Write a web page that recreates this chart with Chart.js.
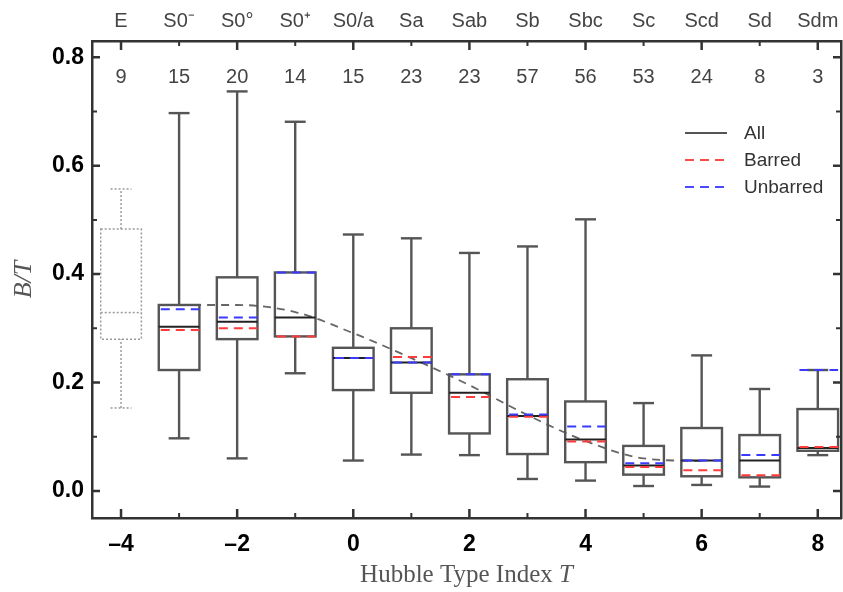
<!DOCTYPE html>
<html>
<head>
<meta charset="utf-8">
<script src="https://cdn.jsdelivr.net/npm/chart.js@4.4.1/dist/chart.umd.min.js"></script>
<style>
  body { margin: 0; background: #fff; }
  #wrap { width: 843px; height: 592px; }
</style>
</head>
<body>
<div id="wrap"><canvas id="chart" width="843" height="592"></canvas></div>
<script>
// Hubble type index and its name / sample size
const types = [-4, -3, -2, -1, 0, 1, 2, 3, 4, 5, 6, 7, 8]
const typeNames = ['E', 'S0\u207B', 'S0\u00B0', 'S0\u207A', 'S0/a', 'Sa', 'Sab', 'Sb', 'Sbc', 'Sc', 'Scd', 'Sd', 'Sdm']
const galaxyCounts = [9, 15, 20, 14, 15, 23, 23, 57, 56, 53, 24, 8, 3]

// box plot stats of B/T
const whiskerLow  = [0.153, 0.097, 0.060, 0.217, 0.056, 0.067, 0.066, 0.022, 0.019, 0.009, 0.011, 0.008, 0.066]
const q1          = [0.280, 0.223, 0.280, 0.285, 0.186, 0.181, 0.106, 0.068, 0.053, 0.030, 0.027, 0.025, 0.074]
const medianAll   = [0.329, 0.303, 0.312, 0.320, 0.245, 0.237, 0.181, 0.138, 0.095, 0.047, 0.056, 0.056, 0.079]
const q3          = [0.483, 0.343, 0.394, 0.403, 0.264, 0.300, 0.215, 0.206, 0.165, 0.083, 0.116, 0.103, 0.151]
const whiskerHigh = [0.557, 0.697, 0.737, 0.681, 0.473, 0.466, 0.439, 0.451, 0.501, 0.162, 0.250, 0.188, 0.223]
const medianBarred   = [null, 0.297, 0.300, 0.285, 0.245, 0.247, 0.173, 0.137, 0.091, 0.044, 0.038, 0.029, 0.081]
const medianUnbarred = [null, 0.335, 0.320, 0.403, 0.245, 0.237, 0.215, 0.141, 0.119, 0.051, 0.056, 0.066, 0.223]

// dashed trend
const trendT  = [-3, -2, -1, 0, 1, 2, 3, 4, 5, 6]
const trendBT = [0.343, 0.343, 0.330, 0.291, 0.245, 0.195, 0.140, 0.092, 0.060, 0.055]

const yTickValues = [0, 0.1, 0.2, 0.3, 0.4, 0.5, 0.6, 0.7, 0.8]

const axisColor = '#333'

const boxPlugin = {
    id: 'boxes',
    afterDatasetsDraw(chart){
        const {ctx} = chart
        const x = chart.scales.x
        const y = chart.scales.y
        const half = 0.35
        const cap = 0.18
        const seg = (x1, y1, x2, y2) => {
            ctx.beginPath()
            ctx.moveTo(x1, y1)
            ctx.lineTo(x2, y2)
            ctx.stroke()
        }
        ctx.save()
        types.forEach((t, i) => {
            const xc = x.getPixelForValue(t)
            const xl = x.getPixelForValue(t - half)
            const xr = x.getPixelForValue(t + half)
            const cl = x.getPixelForValue(t - cap)
            const cr = x.getPixelForValue(t + cap)
            const yLo = y.getPixelForValue(whiskerLow[i])
            const yQ1 = y.getPixelForValue(q1[i])
            const yQ3 = y.getPixelForValue(q3[i])
            const yHi = y.getPixelForValue(whiskerHigh[i])
            const ym = y.getPixelForValue(medianAll[i])
            const dotted = i === 0

            ctx.strokeStyle = dotted ? '#9a9a9a' : '#555'
            ctx.lineWidth = dotted ? 1.5 : 2.4
            ctx.setLineDash(dotted ? [2, 2] : [])
            seg(xc, yLo, xc, yQ1)
            seg(xc, yQ3, xc, yHi)
            seg(cl, yLo, cr, yLo)
            seg(cl, yHi, cr, yHi)
            ctx.strokeRect(xl, yQ3, xr - xl, yQ1 - yQ3)

            ctx.strokeStyle = dotted ? '#9a9a9a' : '#222'
            ctx.lineWidth = dotted ? 1.5 : 2
            seg(xl, ym, xr, ym)

            ctx.lineWidth = 2
            ctx.setLineDash([9, 6])
            if (medianBarred[i] != null) {
                ctx.strokeStyle = '#ff3b3b'
                const yb = y.getPixelForValue(medianBarred[i])
                seg(xl + 2, yb, xr, yb)
            }
            if (medianUnbarred[i] != null) {
                ctx.strokeStyle = '#3a3aff'
                const yu = y.getPixelForValue(medianUnbarred[i])
                seg(xl + 2, yu, xr, yu)
            }
        })
        ctx.restore()
    }
}

const decorPlugin = {
    id: 'decor',
    afterDraw(chart){
        const {ctx, chartArea} = chart
        const x = chart.scales.x
        const y = chart.scales.y
        ctx.save()
        ctx.strokeStyle = axisColor
        ctx.setLineDash([])
        // inward ticks, bottom and top
        types.forEach(t => {
            const px = x.getPixelForValue(t)
            const len = t % 2 === 0 ? 9 : 5
            ctx.lineWidth = t % 2 === 0 ? 2.5 : 2
            ctx.beginPath()
            ctx.moveTo(px, chartArea.bottom)
            ctx.lineTo(px, chartArea.bottom - len)
            ctx.moveTo(px, chartArea.top)
            ctx.lineTo(px, chartArea.top + len)
            ctx.stroke()
        })
        // inward ticks, left and right
        yTickValues.forEach((v, k) => {
            const py = y.getPixelForValue(v)
            const len = k % 2 === 0 ? 8 : 5
            ctx.lineWidth = k % 2 === 0 ? 2.5 : 2
            ctx.beginPath()
            ctx.moveTo(chartArea.left, py)
            ctx.lineTo(chartArea.left + len, py)
            ctx.moveTo(chartArea.right, py)
            ctx.lineTo(chartArea.right - len, py)
            ctx.stroke()
        })

        // sample sizes
        ctx.fillStyle = '#444'
        ctx.font = '20px "Liberation Sans", Arial, sans-serif'
        ctx.textAlign = 'center'
        ctx.textBaseline = 'middle'
        types.forEach((t, i) => {
            ctx.fillText(String(galaxyCounts[i]), x.getPixelForValue(t), chartArea.top + 36)
        })

        // legend
        const legendItems = [
            {text: 'All', color: '#555', dash: []},
            {text: 'Barred', color: '#ff4a4a', dash: [9, 6]},
            {text: 'Unbarred', color: '#4a4aff', dash: [9, 6]}
        ]
        ctx.textAlign = 'left'
        ctx.font = '19px "Liberation Sans", Arial, sans-serif'
        legendItems.forEach((item, k) => {
            const ly = 133 + k * 27
            ctx.strokeStyle = item.color
            ctx.lineWidth = 2
            ctx.setLineDash(item.dash)
            ctx.beginPath()
            ctx.moveTo(685, ly)
            ctx.lineTo(727, ly)
            ctx.stroke()
            ctx.fillStyle = '#333'
            ctx.fillText(item.text, 744, ly + 1)
        })
        ctx.setLineDash([])

        // x axis title with italic T
        ctx.fillStyle = '#555'
        const part1 = 'Hubble Type Index '
        const fontN = '25px "Liberation Serif", "Times New Roman", serif'
        const fontI = 'italic 25px "Liberation Serif", "Times New Roman", serif'
        ctx.font = fontN
        const w1 = ctx.measureText(part1).width
        ctx.font = fontI
        const w2 = ctx.measureText('T').width
        const cx = (chartArea.left + chartArea.right) / 2
        const startX = cx - (w1 + w2) / 2
        ctx.textBaseline = 'middle'
        ctx.font = fontN
        ctx.fillText(part1, startX, 575)
        ctx.font = fontI
        ctx.fillText('T', startX + w1, 575)

        // y axis title
        ctx.translate(24, (chartArea.top + chartArea.bottom) / 2)
        ctx.rotate(-Math.PI / 2)
        ctx.textAlign = 'center'
        ctx.font = 'italic 26px "Liberation Serif", "Times New Roman", serif'
        ctx.fillText('B/T', 0, 0)
        ctx.restore()
    }
}

const noSidePad = scale => {
    scale.paddingLeft = 0
    scale.paddingRight = 0
}

const ctx = document.getElementById('chart').getContext('2d')
const myChart = new Chart(ctx, {
    type: 'scatter',
    data: {
        datasets: [{
            type: 'line',
            label: 'trend',
            data: trendT.map((t, i) => ({x: t, y: trendBT[i]})),
            borderColor: '#666',
            borderWidth: 1.8,
            borderDash: [8, 6],
            cubicInterpolationMode: 'monotone',
            pointRadius: 0,
            fill: false
        }]
    },
    options: {
        responsive: false,
        animation: false,
        layout: {padding: 0},
        plugins: {
            legend: {display: false},
            tooltip: {enabled: false}
        },
        scales: {
            x: {
                type: 'linear',
                position: 'bottom',
                min: -4.5,
                max: 8.4,
                afterBuildTicks: scale => { scale.ticks = types.map(v => ({value: v})) },
                afterFit: scale => { scale.height = 74; noSidePad(scale) },
                grid: {drawOnChartArea: false, drawTicks: false},
                border: {display: true, color: axisColor, width: 2.5},
                ticks: {
                    autoSkip: false,
                    maxRotation: 0,
                    padding: 13,
                    color: '#000',
                    font: {family: '"Liberation Sans", Arial, sans-serif', size: 23, weight: 'bold'},
                    callback: v => v % 2 === 0 ? (v < 0 ? '\u2013' + Math.abs(v) : String(v)) : ''
                }
            },
            x2: {
                type: 'linear',
                position: 'top',
                min: -4.5,
                max: 8.4,
                afterBuildTicks: scale => { scale.ticks = types.map(v => ({value: v})) },
                afterFit: scale => { scale.height = 41; noSidePad(scale) },
                grid: {drawOnChartArea: false, drawTicks: false},
                border: {display: true, color: axisColor, width: 2.5},
                ticks: {
                    autoSkip: false,
                    maxRotation: 0,
                    padding: 8,
                    color: '#444',
                    font: {family: '"Liberation Sans", Arial, sans-serif', size: 20},
                    callback: v => typeNames[types.indexOf(v)] || ''
                }
            },
            y: {
                type: 'linear',
                position: 'left',
                min: -0.05,
                max: 0.83,
                afterBuildTicks: scale => { scale.ticks = yTickValues.map(v => ({value: v})) },
                afterFit: scale => { scale.width = 92 },
                grid: {drawOnChartArea: false, drawTicks: false},
                border: {display: true, color: axisColor, width: 2.5},
                ticks: {
                    padding: 8,
                    color: '#000',
                    font: {family: '"Liberation Sans", Arial, sans-serif', size: 23, weight: 'bold'},
                    callback: (v, i) => i % 2 === 0 ? v.toFixed(1) : ''
                }
            },
            y2: {
                type: 'linear',
                position: 'right',
                min: -0.05,
                max: 0.83,
                afterFit: scale => { scale.width = 2 },
                grid: {drawOnChartArea: false, drawTicks: false},
                border: {display: true, color: axisColor, width: 2.5},
                ticks: {display: false}
            }
        }
    },
    plugins: [boxPlugin, decorPlugin]
});
</script>
</body>
</html>
